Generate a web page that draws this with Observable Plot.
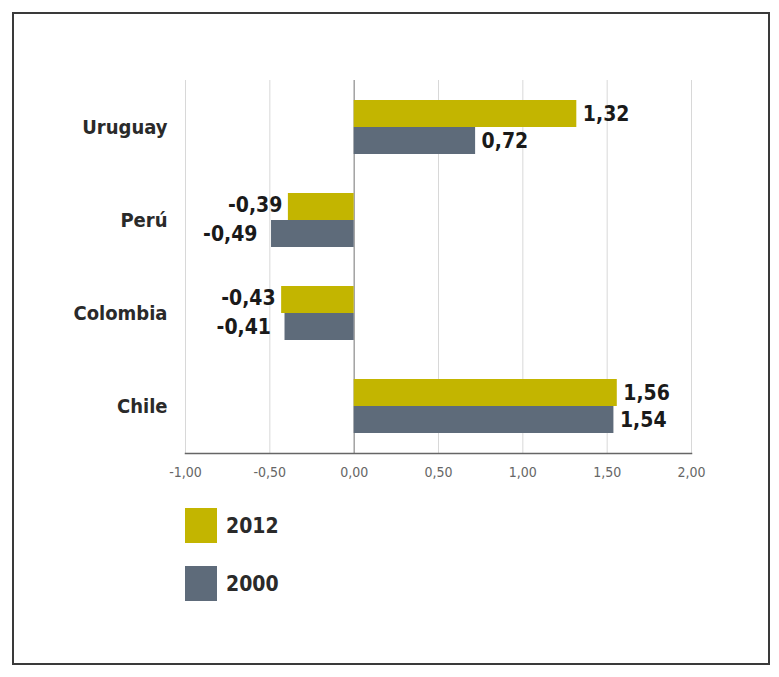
<!DOCTYPE html>
<html>
<head>
<meta charset="utf-8">
<script src="https://cdn.jsdelivr.net/npm/d3@7"></script>
<script src="https://cdn.jsdelivr.net/npm/@observablehq/plot@0.6"></script>
<style>
  html, body { margin: 0; padding: 0; background: #fff; }
  body { width: 779px; height: 677px; position: relative; overflow: hidden; font-family: "DejaVu Sans Condensed", "Liberation Sans Narrow", sans-serif; }
  #frame { position: absolute; left: 12px; top: 12px; width: 754px; height: 649px; border: 2px solid #3a3a3a; }
  #chart { position: absolute; left: 0; top: 0; }
  .leg { position: absolute; left: 185px; display: flex; align-items: center; font-weight: bold; font-size: 21px; color: #2a2a2a; }
  .sw { width: 32px; height: 35px; margin-right: 9px; }
</style>
</head>
<body>
<div id="frame"></div>
<div id="chart"></div>
<div class="leg" style="top:508px"><div class="sw" id="sw0"></div><span id="lt0"></span></div>
<div class="leg" style="top:566px"><div class="sw" id="sw1"></div><span id="lt1"></span></div>
<script>
const countries = ["Uruguay", "Perú", "Colombia", "Chile"];
const values2012 = [1.32, -0.39, -0.43, 1.56];
const values2000 = [0.72, -0.49, -0.41, 1.54];
const years = ["2012", "2000"];
const colors = ["#c3b500", "#5e6b7a"];
const xTicks = [-1, -0.5, 0, 0.5, 1, 1.5, 2];

const fmt2 = d => d.toFixed(2).replace(".", ",");
const rows = [];
countries.forEach((c, i) => {
  rows.push({country: c, year: years[0], value: values2012[i]});
  rows.push({country: c, year: years[1], value: values2000[i]});
});
const half = 27;
const d12 = rows.filter(r => r.year === years[0]);
const d00 = rows.filter(r => r.year === years[1]);
const lbl = {fontSize: 21, fontWeight: 600, fill: "#1a1a1a"};

const chart = Plot.plot({
  width: 779,
  height: 480,
  marginTop: 80,
  marginBottom: 27,
  marginLeft: 185,
  marginRight: 88,
  style: {fontFamily: "'DejaVu Sans Condensed', 'Liberation Sans Narrow', sans-serif", background: "transparent"},
  x: {domain: [-1, 2]},
  y: {domain: countries, paddingInner: 0.42, paddingOuter: 0.21},
  marks: [
    Plot.ruleX(xTicks.filter(t => t !== 0), {stroke: "#d8d8d8", strokeWidth: 1}),
    Plot.ruleX([0], {stroke: "#8a8a8a", strokeWidth: 1.2}),
    Plot.barX(d12, {x: "value", y: "country", fill: colors[0], insetBottom: half, insetTop: 0}),
    Plot.barX(d00, {x: "value", y: "country", fill: colors[1], insetTop: half, insetBottom: 0}),
    Plot.text(d12.filter(d => d.value >= 0), {x: "value", y: "country", dy: -half / 2, dx: 6, text: d => fmt2(d.value), textAnchor: "start", ...lbl}),
    Plot.text(d00.filter(d => d.value >= 0), {x: "value", y: "country", dy: half / 2, dx: 6, text: d => fmt2(d.value), textAnchor: "start", ...lbl}),
    Plot.text(d12.filter(d => d.value < 0), {x: "value", y: "country", dy: -half / 2 - 2, dx: -6, text: d => fmt2(d.value), textAnchor: "end", ...lbl}),
    Plot.text(d00.filter(d => d.value < 0), {x: "value", y: "country", dy: half / 2, dx: -14, text: d => fmt2(d.value), textAnchor: "end", ...lbl}),
    Plot.axisY({tickSize: 0, tickPadding: 18, fontSize: 20, fontWeight: "bold", fill: "#2a2a2a", label: null}),
    Plot.axisX({ticks: xTicks, tickFormat: fmt2, tickSize: 0, tickPadding: 14, fontSize: 14, fill: "#666", label: null}),
    Plot.frame({anchor: "bottom", stroke: "#666", strokeWidth: 1.5})
  ]
});
document.getElementById("chart").appendChild(chart);
document.getElementById("sw0").style.background = colors[0];
document.getElementById("sw1").style.background = colors[1];
document.getElementById("lt0").textContent = years[0];
document.getElementById("lt1").textContent = years[1];
</script>
</body>
</html>
